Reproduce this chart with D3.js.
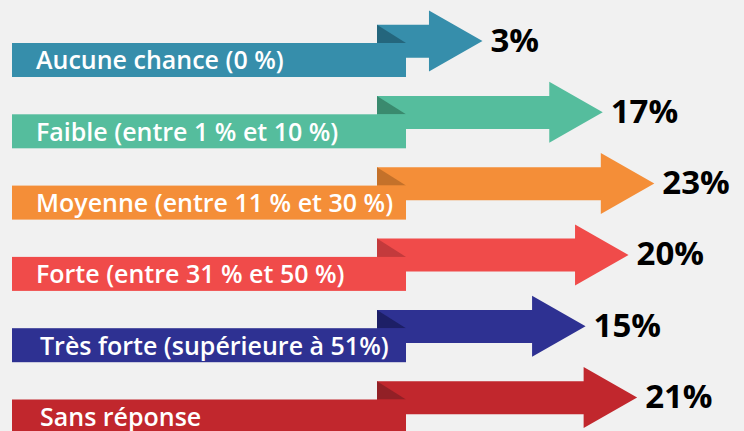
<!DOCTYPE html>
<html>
<head>
<meta charset="utf-8">
<script src="https://cdn.jsdelivr.net/npm/d3@7"></script>
<style>
  html, body { margin: 0; padding: 0; background: #F1F1F1; }
  svg { display: block; }
</style>
</head>
<body>
<svg id="chart" width="744" height="431"></svg>
<script>
// ---- data ----
const categories = [
  "Aucune chance (0 %)",
  "Faible (entre 1 % et 10 %)",
  "Moyenne (entre 11 % et 30 %)",
  "Forte (entre 31 % et 50 %)",
  "Très forte (supérieure à 51%)",
  "Sans réponse"
];
const values = [3, 17, 23, 20, 15, 21];
const valueLabels = ["3%", "17%", "23%", "20%", "15%", "21%"];
const colors = ["#368EAB", "#55BD9D", "#F48E38", "#F04B4A", "#2E3192", "#C1272D"];
const foldColors = ["#24667D", "#3A8A6E", "#C4712A", "#C33A3C", "#1D1F66", "#922026"];

// ---- layout ----
const W = 744, H = 431;
const svg = d3.select("#chart");
svg.append("rect").attr("width", W).attr("height", H).attr("fill", "#F1F1F1");

const y = d3.scalePoint().domain(categories).range([41, 397.5]);
const x = d3.scaleLinear().domain([0, 25]).range([456.7, 671.5]);

const labelX0 = 12, labelX1 = 406;   // label box
const shaftX0 = 377;                 // start of upper arrow shaft
const shaftTop = -16.3, shaftBot = 16.7;
const headHalf = 30.5, headLen = 53.5;
const boxTop = 2, boxBot = 36;

const rows = categories.map((c, i) => ({
  cat: c, v: values[i], lab: valueLabels[i], col: colors[i], fold: foldColors[i]
}));

const g = svg.selectAll("g.row").data(rows).join("g").attr("class", "row")
  .attr("transform", d => `translate(0,${y(d.cat)})`);

// arrow (shaft + head)
g.append("path")
  .attr("fill", d => d.col)
  .attr("d", d => {
    const tip = x(d.v), base = tip - headLen;
    return `M${shaftX0},${shaftTop} L${base},${shaftTop} L${base},${-headHalf} L${tip},0 ` +
           `L${base},${headHalf} L${base},${shaftBot} L${shaftX0},${shaftBot} Z`;
  });

// fold shadow triangle
g.append("path")
  .attr("fill", d => d.fold)
  .attr("d", `M${shaftX0},${shaftTop} L${shaftX0},${boxTop} L${labelX1},${boxTop} Z`);

// label box
g.append("rect")
  .attr("x", labelX0).attr("y", boxTop)
  .attr("width", labelX1 - labelX0).attr("height", boxBot - boxTop)
  .attr("fill", d => d.col);

// category text
g.append("text")
  .attr("x", (d, i) => i >= 4 ? 40 : 36)
  .attr("y", 28.4)
  .attr("fill", "#FFFFFF")
  .attr("font-family", "'Open Sans', 'Noto Sans', sans-serif")
  .attr("font-weight", 600)
  .attr("font-size", 25)
  .text(d => d.cat);

// value text
g.append("text")
  .attr("x", d => x(d.v) + 8)
  .attr("y", 10.5)
  .attr("fill", "#000000")
  .attr("font-family", "'Open Sans', 'Noto Sans', sans-serif")
  .attr("font-weight", 700)
  .attr("font-size", 33)
  .text(d => d.lab);
</script>
</body>
</html>
